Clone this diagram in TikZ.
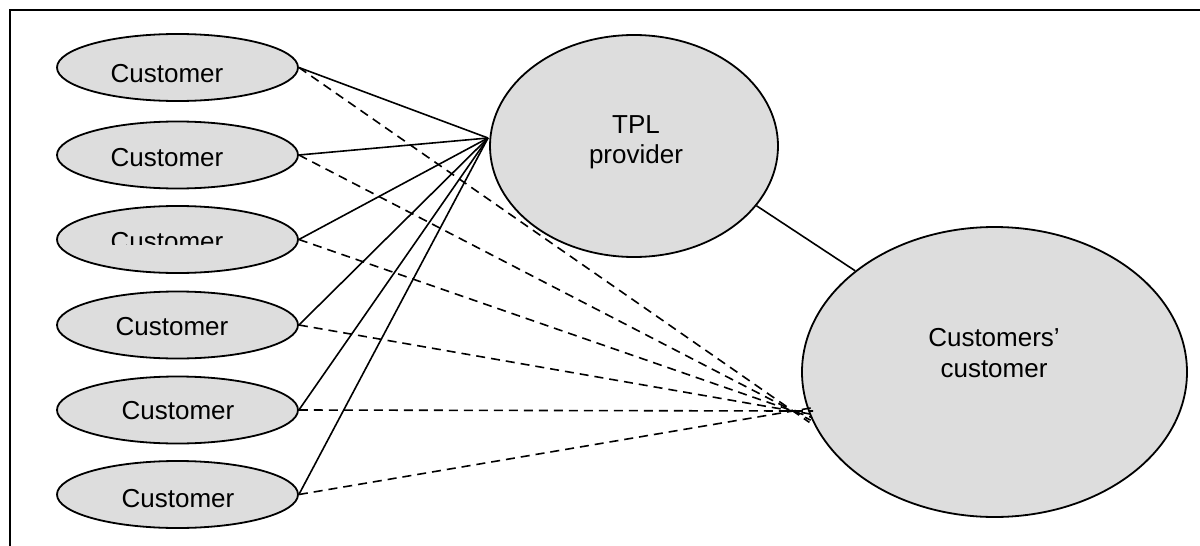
\documentclass[tikz,border=0pt]{standalone}
\usepackage{fontspec}
\setmainfont{Liberation Sans}
\usetikzlibrary{shapes.geometric,calc}
\definecolor{bubble}{RGB}{221,221,221}
\tikzset{
  x=1pt, y=-1pt,
  oval/.style={ellipse, draw, fill=bubble, line width=1.8pt, inner sep=0pt},
  cust/.style={oval, minimum width=241pt, minimum height=67pt},
  lbl/.style={inner sep=0pt, anchor=base, font=\fontsize{26}{31}\selectfont},
  link/.style={line width=1.6pt},
  dlink/.style={line width=1.6pt, dash pattern=on 9pt off 6pt},
}
\begin{document}
\begin{tikzpicture}
\useasboundingbox (0,0) rectangle (1200,546);
% frame along the top and left edges
\draw[line width=2pt] (1200,10) -- (10,10) -- (10,546);

% customer ellipses
\node[cust] (c1) at (177.5,67.5) {};
\node[cust] (c2) at (177.5,155) {};
\node[cust] (c3) at (177.5,239.5) {};
\node[cust] (c4) at (177.5,325) {};
\node[cust] (c5) at (177.5,410) {};
\node[cust] (c6) at (177.5,494.5) {};

% provider and end customer
\node[oval, minimum width=288pt, minimum height=222pt] (tpl) at (634,146) {};
\node[oval, minimum width=385pt, minimum height=290pt] (cc) at (994.5,372) {};

% meeting points of the connectors
\coordinate (hub) at (488,138);
\coordinate (sink) at (793,411);

% solid links to the provider
\foreach \c in {c1,c2,c3,c4,c5,c6}
  \draw[link] (\c.east) -- (hub);

% dashed links to the end customer, running a little past their meeting point
\foreach \c in {c1,c2,c3,c4,c5,c6}
  \draw[dlink] (\c.east) -- ($(sink)!-20pt!(\c.east)$);

% provider to end customer
\draw[link] (tpl.-26.8) -- (cc.144.8);

% labels
\node[lbl] (t1) at (167,82) {Customer};
\node[lbl] (t2) at (167,166) {Customer};
\begin{scope}
  \clip (90,215) rectangle (260,244.5);
  \node[lbl] (t3) at (167,250) {Customer};
\end{scope}
\node[lbl] (t4) at (172,335) {Customer};
\node[lbl] (t5) at (178,419) {Customer};
\node[lbl] (t6) at (178,507) {Customer};

\node[lbl] (tplA) at (636,133) {TPL};
\node[lbl] (tplB) at (636,163) {provider};
\node[lbl] (ccA) at (994,346) {Customers’};
\node[lbl] (ccB) at (994,377) {customer};
\end{tikzpicture}
\end{document}
